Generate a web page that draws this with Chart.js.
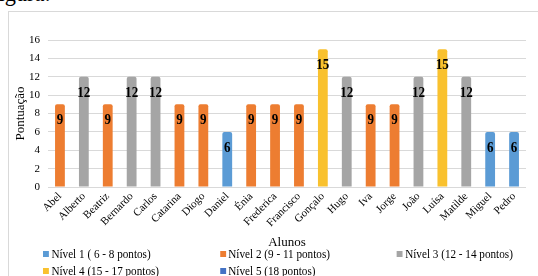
<!DOCTYPE html>
<html>
<head>
<meta charset="utf-8">
<script src="https://cdn.jsdelivr.net/npm/chart.js@4/dist/chart.umd.min.js"></script>
<style>
  html, body { margin: 0; padding: 0; background: #fff; }
  body { width: 538px; height: 276px; position: relative; overflow: hidden; font-family: "Liberation Serif", "Times New Roman", serif; }
  #fig { position: absolute; left: -9px; top: -21px; font-size: 26px; line-height: 28px; color: #000; transform: scaleX(0.86); transform-origin: 0 0; }
  #frame { position: absolute; left: 8px; top: 11px; right: -2px; bottom: -2px; border-left: 1px solid #d9d9d9; border-top: 1px solid #d9d9d9; }
  #wrap { position: absolute; left: 0; top: 0; width: 538px; height: 252px; }
  #legend { position: absolute; left: 43px; top: 246px; width: 600px; display: grid; grid-template-columns: 210.6px 210.6px auto; row-gap: 2px; font-size: 13.3px; line-height: 15px; color: #000; white-space: nowrap; transform: scaleX(0.84); transform-origin: 0 0; }
  #legend .item { display: flex; align-items: center; }
  #legend .box { width: 7px; height: 6px; margin-right: 3px; display: inline-block; }
</style>
</head>
<body>
<div id="fig">figura:</div>
<div id="frame"></div>
<div id="wrap"><canvas id="c" width="538" height="252"></canvas></div>
<div id="legend"></div>
<script>
const categories = ['Abel','Alberto','Beatriz','Bernardo','Carlos','Catarina','Diogo','Daniel','Énia','Frederica','Francisco','Gonçalo','Hugo','Iva','Jorge','João','Luísa','Matilde','Miguel','Pedro'];
const nivel1 = [null,null,null,null,null,null,null,6,null,null,null,null,null,null,null,null,null,null,6,6];
const nivel2 = [9,null,9,null,null,9,9,null,9,9,9,null,null,9,9,null,null,null,null,null];
const nivel3 = [null,12,null,12,12,null,null,null,null,null,null,null,12,null,null,12,null,12,null,null];
const nivel4 = [null,null,null,null,null,null,null,null,null,null,null,15,null,null,null,null,15,null,null,null];
const nivel5 = [null,null,null,null,null,null,null,null,null,null,null,null,null,null,null,null,null,null,null,null];
const seriesNames = ['Nível 1 ( 6 - 8 pontos)','Nível 2 (9 - 11 pontos)','Nível 3 (12 - 14 pontos)','Nível 4 (15 - 17 pontos)','Nível 5 (18 pontos)'];
const seriesColors = ['#5B9BD5','#ED7D31','#A5A5A5','#F9C12E','#4472C4'];
const yTitle = 'Pontuação';
const xTitle = 'Alunos';

const seriesData = [nivel1, nivel2, nivel3, nivel4, nivel5];
const FONT = '"Liberation Serif", "Times New Roman", serif';

const datasets = seriesData.map((d, i) => ({
  label: seriesNames[i],
  data: d,
  backgroundColor: seriesColors[i],
  borderRadius: { topLeft: 2, topRight: 2 },
  borderSkipped: 'bottom',
  barPercentage: 0.41,
  categoryPercentage: 1
}));

const valueLabels = {
  id: 'valueLabels',
  afterDatasetsDraw(chart) {
    const ctx = chart.ctx;
    chart.data.datasets.forEach((ds, i) => {
      const meta = chart.getDatasetMeta(i);
      meta.data.forEach((el, j) => {
        const v = ds.data[j];
        if (v == null) return;
        ctx.save();
        ctx.font = 'bold 15px ' + FONT;
        ctx.fillStyle = '#000';
        ctx.textAlign = 'center';
        ctx.textBaseline = 'middle';
        ctx.translate(el.x, el.y + 16);
        ctx.scale(0.87, 1);
        ctx.fillText(String(v), 0, 0);
        ctx.restore();
      });
    });
  }
};

new Chart(document.getElementById('c'), {
  type: 'bar',
  data: { labels: categories, datasets },
  options: {
    responsive: false,
    animation: false,
    layout: { padding: { left: 9, right: 12, top: 40, bottom: 0 } },
    plugins: { legend: { display: false }, tooltip: { enabled: false } },
    scales: {
      x: {
        stacked: true,
        grid: { display: false, drawTicks: false },
        border: { display: false },
        ticks: { autoSkip: false, minRotation: 45, maxRotation: 45, padding: 3, color: '#000', font: { family: FONT, size: 11 } },
        title: { display: true, text: xTitle, color: '#000', font: { family: FONT, size: 13 }, padding: { top: 0, bottom: 2 } },
        afterFit(s) { s.height = 65; }
      },
      y: {
        stacked: true,
        min: 0, max: 16,
        ticks: { stepSize: 2, padding: 8, color: '#000', font: { family: FONT, size: 11 } },
        grid: { color: '#d9d9d9', drawTicks: false },
        border: { display: false },
        title: { display: true, text: yTitle, color: '#000', font: { family: FONT, size: 13 }, padding: { top: 4, bottom: 0 } },
        afterFit(s) { s.width = 39; }
      }
    }
  },
  plugins: [valueLabels]
});

const legend = document.getElementById('legend');
seriesNames.forEach((name, i) => {
  const item = document.createElement('div');
  item.className = 'item';
  const box = document.createElement('span');
  box.className = 'box';
  box.style.background = seriesColors[i];
  const txt = document.createElement('span');
  txt.textContent = name;
  item.appendChild(box);
  item.appendChild(txt);
  legend.appendChild(item);
});
</script>
</body>
</html>
